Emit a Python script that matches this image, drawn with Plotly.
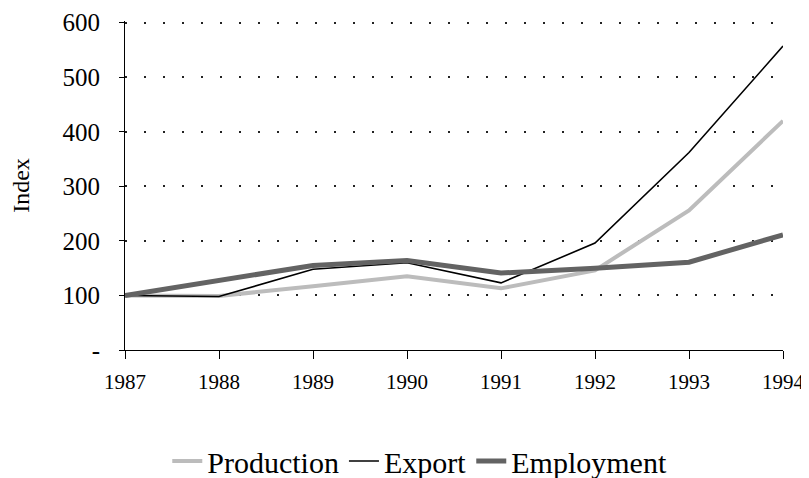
import plotly.graph_objects as go

years = [1987, 1988, 1989, 1990, 1991, 1992, 1993, 1994]
production = [100, 99, 117, 135, 113, 146, 256, 420]
export = [100, 98, 148, 160, 123, 196, 362, 557]
employment = [100, 127, 155, 164, 141, 150, 161, 211]

y_tickvals = [0, 100, 200, 300, 400, 500, 600]
y_ticktext = ["-", "100", "200", "300", "400", "500", "600"]

FONT = "Liberation Serif"

fig = go.Figure()
fig.add_trace(go.Scatter(x=years, y=production, mode="lines", name="Production",
                         line=dict(color="#bcbcbc", width=4)))
fig.add_trace(go.Scatter(x=years, y=export, mode="lines", name="Export",
                         line=dict(color="#000000", width=1.6)))
fig.add_trace(go.Scatter(x=years, y=employment, mode="lines", name="Employment",
                         line=dict(color="#636363", width=5)))

fig.update_layout(
    width=809, height=478,
    margin=dict(l=117, r=34, t=13, b=136, pad=0),
    paper_bgcolor="white", plot_bgcolor="white",
    font=dict(family=FONT, color="black", size=20),
    showlegend=True,
    legend=dict(orientation="h", xref="container", x=0.509, xanchor="center",
                yref="container", y=1 - 453 / 478, yanchor="middle",
                font=dict(family=FONT, size=30), itemwidth=30, tracegroupgap=0,
                bgcolor="rgba(0,0,0,0)"),
)
fig.update_xaxes(
    range=[1987, 1994], tickvals=years, ticktext=[str(y) for y in years],
    showgrid=False, zeroline=False, showline=True, linecolor="black", linewidth=1,
    ticks="outside", ticklen=8, tickcolor="black", automargin=False,
    tickfont=dict(family=FONT, size=21), ticklabelstandoff=5,
)
fig.update_yaxes(
    range=[0, 603], tickvals=y_tickvals, ticktext=y_ticktext,
    showgrid=True, gridcolor="#222222", gridwidth=1.5, griddash="2px,17px",
    zeroline=False, showline=True, linecolor="black", linewidth=1,
    ticks="outside", ticklen=5, tickcolor="black", automargin=False,
    tickfont=dict(family=FONT, size=25), ticklabelstandoff=14,
    title=dict(text="Index", font=dict(family=FONT, size=24), standoff=30),
)

fig.write_html("out.html")
